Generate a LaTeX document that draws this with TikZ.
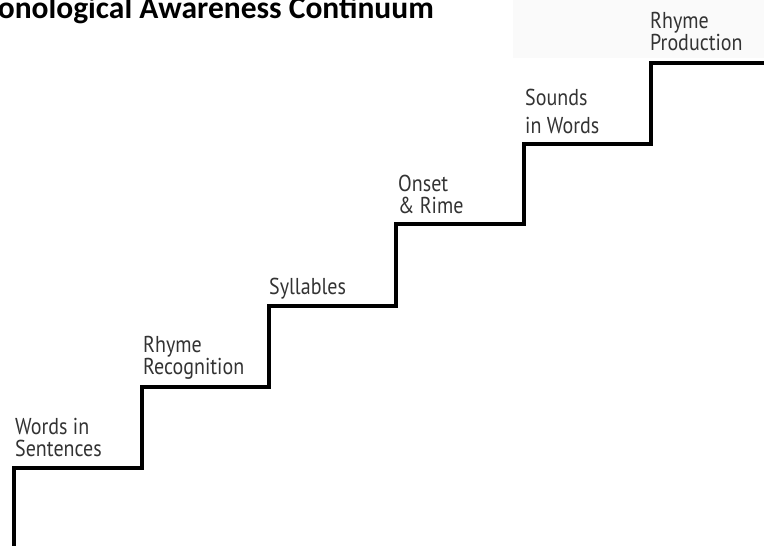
\documentclass[tikz,border=0pt]{standalone}
\usepackage{fontspec}
\newfontfamily\titlefont{Carlito}
\newfontfamily\stepfont[FakeStretch=0.87]{PT Sans}
\usetikzlibrary{positioning}

\begin{document}
\begin{tikzpicture}[x=1pt, y=-1pt,
    stair/.style={draw=black, line width=3.4pt, line join=miter},
    steplabel/.style={font=\stepfont\fontsize{23}{22}\selectfont, text=black!80,
        align=left, inner sep=0pt, text depth=0pt, anchor=south west}]
    \useasboundingbox (0,0) rectangle (764,546);
    \clip (0,0) rectangle (764,546);

    % pasted strip behind the top step
    \fill[black!2] (513,0) rectangle (764,58);

    \node (title) [anchor=base east, inner sep=0pt, font=\titlefont\bfseries\fontsize{31.5}{34}\selectfont]
        at (434,19) {Phonological Awareness Continuum};

    % corners of the steps
    \coordinate (s0) at (14,560);
    \coordinate (s1) at (14,468);
    \coordinate (s2) at (142,387);
    \coordinate (s3) at (269,306);
    \coordinate (s4) at (396,224);
    \coordinate (s5) at (524,144);
    \coordinate (s6) at (651,63);
    \coordinate (s7) at (780,63);

    \draw[stair] (s0) -- (s1) -| (s2) -| (s3) -| (s4) -| (s5) -| (s6) -- (s7);

    \node (words)     [steplabel, above right=11pt and 1pt of s1] {Words in\\Sentences};
    \node (rhymerec)  [steplabel, above right=12pt and 1pt of s2] {Rhyme\\Recognition};
    \node (syllables) [steplabel, above right=11pt and 0pt of s3] {Syllables};
    \node (onset)     [steplabel, above right=10pt and 2pt of s4] {Onset\\\& Rime};
    \node (sounds)    [steplabel, above right=10pt and 1pt of s5,
                       font=\stepfont\fontsize{23}{28}\selectfont] {Sounds\\in Words};
    \node (rhymeprod) [steplabel, above right=12pt and -1pt of s6] {Rhyme\\Production};
\end{tikzpicture}
\end{document}
